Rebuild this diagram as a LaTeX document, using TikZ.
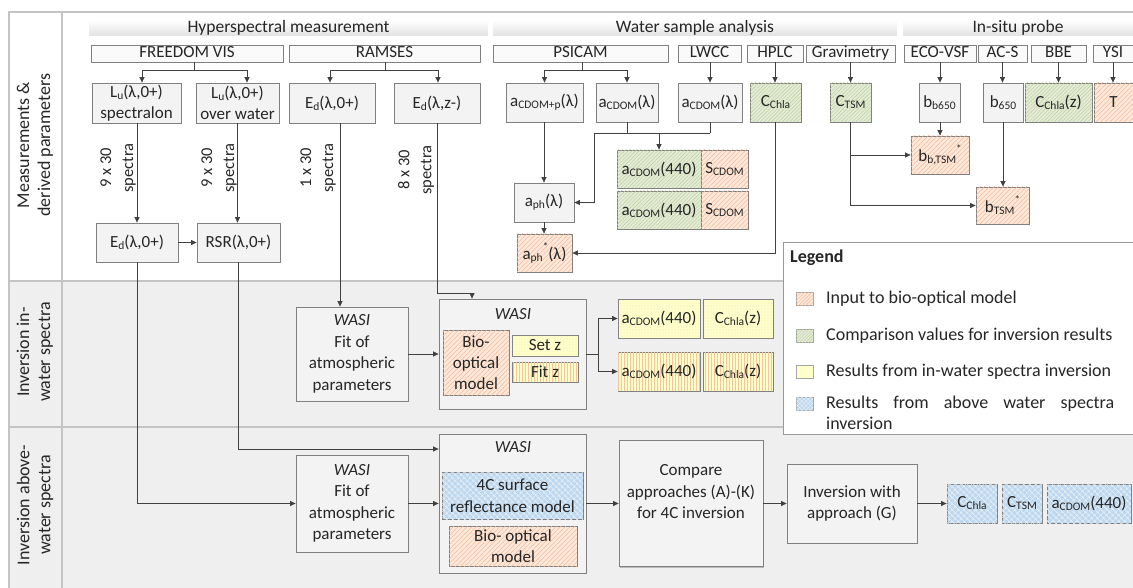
\documentclass[tikz,border=0pt]{standalone}
\usepackage{fontspec}
\setmainfont{Carlito}
\usetikzlibrary{arrows.meta,patterns.meta,shadows,calc}
\definecolor{frame}{HTML}{C4C4C4}
\definecolor{rowbg}{HTML}{EFEFEF}
\definecolor{bord}{HTML}{808080}
\definecolor{boxbg}{HTML}{F3F3F3}
\definecolor{insbg}{HTML}{FAFAFA}
\definecolor{hdrbot}{HTML}{E2E2E2}
\definecolor{txt}{HTML}{262626}
\definecolor{wire}{HTML}{404040}
\definecolor{orfill}{HTML}{FDE8DB}
\definecolor{orline}{HTML}{F5BC98}
\definecolor{grfill}{HTML}{E4EBD7}
\definecolor{grline}{HTML}{BCD09C}
\definecolor{yefill}{HTML}{FFFFCC}
\definecolor{yedot}{HTML}{D8C47E}
\definecolor{stline}{HTML}{F7C59E}
\definecolor{blfill}{HTML}{BFD8EE}
\definecolor{blline}{HTML}{E8F1FA}
\newcommand{\fsz}{\fontsize{17}{21.5}\selectfont}
\newcommand{\dnx}[1]{\raisebox{-0.25ex}{\fontsize{11.5}{12}\selectfont #1}}
\newcommand{\upx}{\raisebox{1.1ex}{\fontsize{11}{12}\selectfont *}}
\tikzset{
  base/.style={draw=bord, line width=0.8pt, text=txt, inner sep=0pt, align=center, font=\fsz,
    drop shadow={shadow xshift=1.2pt, shadow yshift=-1.2pt, opacity=0.22, fill=black}},
  box/.style={base, fill=boxbg},
  ins/.style={base, fill=insbg, minimum height=17pt, text height=12pt, text depth=3.5pt},
  hdr/.style={top color=white, bottom color=hdrbot, text=txt, inner sep=0pt, font=\fontsize{17.5}{21}\selectfont,
    minimum height=16pt, text height=12pt, text depth=3.5pt},
  orng/.style={base, fill=orfill, postaction={pattern={Lines[angle=45,distance=3.3pt,line width=0.55pt]}, pattern color=orline}},
  grn/.style={base, fill=grfill, postaction={pattern={Lines[angle=45,distance=2.6pt,line width=0.45pt]}, pattern color=grline}},
  yel/.style={base, fill=yefill, postaction={pattern={Dots[distance=3pt,radius=0.45pt]}, pattern color=yedot}},
  stri/.style={base, fill=yefill, postaction={pattern={Lines[angle=90,distance=3pt,line width=0.6pt]}, pattern color=stline}},
  blu/.style={base, fill=blfill, postaction={pattern={Hatch[angle=45,distance=4pt,line width=0.5pt]}, pattern color=blline}},
  ln/.style={draw=wire, line width=0.7pt},
  arr/.style={draw=wire, line width=0.7pt, -{Triangle[length=5.5pt,width=5pt]}},
  spec/.style={rotate=90, align=center, text=txt, font=\fontsize{16.5}{22}\selectfont, inner sep=0pt},
  rowlab/.style={rotate=90, align=center, text=txt, font=\fontsize{18}{21}\selectfont, inner sep=0pt},
  plain/.style={text=txt, inner sep=0pt, font=\fsz, align=center},
  sw/.style={draw=bord!70, line width=0.6pt, minimum width=17pt, minimum height=13pt, inner sep=0pt},
}
\begin{document}
\begin{tikzpicture}[x=1pt,y=-1pt]
\useasboundingbox (0,0) rectangle (1133,588);
\clip (0,0) rectangle (1133,588);
% background rows
\fill[white] (0,0) rectangle (1133,588);
\fill[rowbg] (9,281) rectangle (1140,600);
\draw[frame, line width=1.2pt] (1140,12) -- (9,12) -- (9,600);
\draw[frame, line width=1.2pt] (62,12) -- (62,600);
\draw[frame, line width=1.2pt] (9,281) -- (1140,281);
\draw[frame, line width=1.2pt] (9,427) -- (1140,427);
% row labels
\node[rowlab] (rl1) at (35,145) {Measurements \&\\derived parameters};
\node[rowlab] (rl2) at (35,352) {Inversion in-\\water spectra};
\node[rowlab] (rl3) at (35,505) {Inversion above-\\water spectra};
% headers
\node[hdr, minimum width=399pt] (hhyp) at (288.5,28) {Hyperspectral measurement};
\node[hdr, minimum width=404pt] (hwsa) at (695,28) {Water sample analysis};
\node[hdr, minimum width=230pt] (hisp) at (1018,28) {In-situ probe};
% instruments
\node[ins, minimum width=192pt] (fvis) at (187,53.5) {FREEDOM VIS};
\node[ins, minimum width=191pt] (ram) at (384.5,53.5) {RAMSES};
\node[ins, minimum width=175pt] (psi) at (580.5,53.5) {PSICAM};
\node[ins, minimum width=63pt] (lwcc) at (709.5,53.5) {LWCC};
\node[ins, minimum width=56pt] (hplc) at (775,53.5) {HPLC};
\node[ins, minimum width=89pt] (grav) at (850.5,53.5) {Gravimetry};
\node[ins, minimum width=72pt] (eco) at (940,53.5) {ECO-VSF};
\node[ins, minimum width=49pt] (acs) at (1002.5,53.5) {AC-S};
\node[ins, minimum width=55pt] (bbe) at (1058.5,53.5) {BBE};
\node[ins, minimum width=40pt] (ysi) at (1113,53.5) {YSI};
% measured parameters
\node[box, minimum width=89pt, minimum height=40pt] (lu1) at (136.5,103) {L\dnx{u}(λ,0+)\\spectralon};
\node[box, minimum width=83pt, minimum height=40pt] (lu2) at (237.5,103) {L\dnx{u}(λ,0+)\\over water};
\node[box, minimum width=86pt, minimum height=40pt] (ed0) at (332,103) {E\dnx{d}(λ,0+)};
\node[box, minimum width=86pt, minimum height=40pt] (edz) at (437,103) {E\dnx{d}(λ,z-)};
\node[box, minimum width=77pt, minimum height=39pt] (acp) at (544.5,102.5) {a\dnx{CDOM+p}(λ)};
\node[box, minimum width=62pt, minimum height=39pt] (acd1) at (627,102.5) {a\dnx{CDOM}(λ)};
\node[box, minimum width=64pt, minimum height=39pt] (acd2) at (710,102.5) {a\dnx{CDOM}(λ)};
\node[grn, minimum width=51pt, minimum height=39pt] (chl) at (775.5,102.5) {C\dnx{Chla}};
\node[grn, minimum width=41pt, minimum height=39pt] (tsm) at (850.5,102.5) {C\dnx{TSM}};
\node[box, minimum width=41pt, minimum height=39pt] (bb650) at (939.5,102.5) {b\dnx{b650}};
\node[box, minimum width=40pt, minimum height=39pt] (b650) at (1003,102.5) {b\dnx{650}};
\node[grn, minimum width=67pt, minimum height=39pt] (chlz) at (1058.5,102.5) {C\dnx{Chla}(z)};
\node[orng, minimum width=39pt, minimum height=39pt] (tt) at (1113.5,102.5) {T};
% derived
\node[orng, minimum width=58pt, minimum height=38pt] (bbt) at (940,155) {b\dnx{b,TSM}\upx};
\node[orng, minimum width=53pt, minimum height=37pt] (bt) at (1002.5,205.5) {b\dnx{TSM}\upx};
\node[grn, minimum width=84pt, minimum height=38pt] (a4a) at (659,169) {a\dnx{CDOM}(440)};
\node[orng, minimum width=47pt, minimum height=38pt] (s4a) at (724.5,169) {S\dnx{CDOM}};
\node[grn, minimum width=84pt, minimum height=38pt] (a4b) at (659,210) {a\dnx{CDOM}(440)};
\node[orng, minimum width=47pt, minimum height=38pt] (s4b) at (724.5,210) {S\dnx{CDOM}};
\node[box, minimum width=60pt, minimum height=39pt] (aph) at (544,202.5) {a\dnx{ph}(λ)};
\node[orng, minimum width=55pt, minimum height=38pt] (aphs) at (544.5,253) {a\dnx{ph}\upx(λ)};
\node[box, minimum width=82pt, minimum height=39pt] (ed0b) at (137,242.5) {E\dnx{d}(λ,0+)};
\node[box, minimum width=83pt, minimum height=39pt] (rsr) at (238.5,242.5) {RSR(λ,0+)};
% spectra labels
\node[spec] (sp1) at (118,168) {9 x 30\\spectra};
\node[spec] (sp2) at (219,168) {9 x 30\\spectra};
\node[spec] (sp3) at (318,168) {1 x 30\\spectra};
\node[spec] (sp4) at (416,170) {8 x 30\\spectra};
% row 2
\node[box, minimum width=112pt, minimum height=94pt] (fit1) at (352,354) {\textit{WASI}\\Fit of\\atmospheric\\parameters};
\node[box, minimum width=147pt, minimum height=110pt] (wasi1) at (512.5,354) {};
\node[plain] (wasi1t) at (513,314) {\textit{WASI}};
\node[orng, minimum width=66pt, minimum height=65pt, font=\fontsize{17}{21}\selectfont] (bio1) at (476,362.5) {Bio-\\optical\\model};
\node[yel, minimum width=66pt, minimum height=21pt] (setz) at (545,345.5) {Set z};
\node[stri, minimum width=66pt, minimum height=20pt] (fitz) at (545,372) {Fit z};
\node[yel, minimum width=82pt, minimum height=39pt] (r1a) at (659,318.5) {a\dnx{CDOM}(440)};
\node[yel, minimum width=70pt, minimum height=39pt] (r1b) at (738,318.5) {C\dnx{Chla}(z)};
\node[stri, minimum width=82pt, minimum height=39pt] (r2a) at (659,371.5) {a\dnx{CDOM}(440)};
\node[stri, minimum width=70pt, minimum height=39pt] (r2b) at (738,371.5) {C\dnx{Chla}(z)};
% row 3
\node[box, minimum width=112pt, minimum height=97pt] (fit2) at (352,503.5) {\textit{WASI}\\Fit of\\atmospheric\\parameters};
\node[box, minimum width=147pt, minimum height=139pt] (wasi2) at (512.5,503.5) {};
\node[plain] (wasi2t) at (513,447) {\textit{WASI}};
\node[blu, minimum width=141pt, minimum height=47pt] (c4) at (512.5,495.5) {4C surface\\reflectance model};
\node[orng, minimum width=128pt, minimum height=40pt] (bio2) at (513,546) {Bio- optical\\model};
\node[box, minimum width=144pt, minimum height=126pt] (cmp) at (691,503.5) {};
\node[plain] (cmpt) at (691,492) {Compare\\approaches (A)-(K)\\for 4C inversion};
\node[box, minimum width=130pt, minimum height=79pt] (inv) at (852,503.5) {Inversion with\\approach (G)};
\node[blu, minimum width=50pt, minimum height=39pt] (o1) at (972,503.5) {C\dnx{Chla}};
\node[blu, minimum width=40pt, minimum height=39pt] (o2) at (1022,503.5) {C\dnx{TSM}};
\node[blu, minimum width=84pt, minimum height=39pt] (o3) at (1089,503.5) {a\dnx{CDOM}(440)};
% connectors: instruments
\coordinate (kf) at (194,70);
\draw[ln] (fvis.south -| kf) -- (kf);
\draw[arr] (kf) -| ([xshift=5.5pt]lu1.north);
\draw[arr] (kf) -| ([xshift=9.5pt]lu2.north);
\coordinate (kr) at (385,70);
\draw[ln] (ram.south -| kr) -- (kr);
\draw[arr] (kr) -| ([xshift=-2pt]ed0.north);
\draw[arr] (kr) -| ([xshift=1pt]edz.north);
\coordinate (kp) at (582,70);
\draw[ln] (psi.south -| kp) -- (kp);
\draw[arr] (kp) -| (acp.north);
\draw[arr] (kp) -| (acd1.north);
\draw[arr] (acd2.north |- lwcc.south) -- (acd2.north);
\draw[arr] (hplc.south) -- (hplc.south |- chl.north);
\draw[arr] (tsm.north |- grav.south) -- (tsm.north);
\draw[arr] (eco.south) -- (eco.south |- bb650.north);
\draw[arr] (acs.south) -- (acs.south |- b650.north);
\draw[arr] (bbe.south) -- (bbe.south |- chlz.north);
\draw[arr] (ysi.south) -- (ysi.south |- tt.north);
% spectra
\draw[arr] (ed0b.north |- lu1.south) -- (ed0b.north);
\draw[arr] (lu2.south) -- (lu2.south |- rsr.north);
\draw[arr] (ed0b.east) -- (rsr.west);
\draw[arr] ([xshift=8pt]ed0.south) -- ([xshift=8pt]ed0.south |- fit1.north);
\coordinate (k1) at (472,293);
\draw[arr] (edz.south) |- (k1) -- (k1 |- wasi1.north);
% water sample chain
\draw[arr] (aph.north |- acp.south) -- (aph.north);
\draw[arr] (aph.south) -- (aph.south |- aphs.north);
\coordinate (kc) at (594,133);
\draw[ln] (acd1.south) -- (acd1.south |- kc);
\draw[ln] (acd2.south) -- (acd2.south |- kc);
\draw[ln] (kc) -- (acd2.south |- kc);
\draw[arr] (a4a.north |- kc) -- (a4a.north);
\draw[arr] (kc) |- (aph.east);
\draw[arr] (chl.south) |- (aphs.east);
\draw[arr] (tsm.south) |- (bt.west);
\draw[arr] (tsm.south |- bbt.west) -- (bbt.west);
\draw[arr] (bbt.north |- bb650.south) -- (bbt.north);
\draw[arr] (b650.south) -- (b650.south |- bt.north);
% row 2 connectors
\draw[arr] (fit1.east) -- (wasi1.west);
\coordinate (ko) at (598,354);
\draw[ln] (wasi1.east) -- (ko);
\draw[arr] (ko) |- (r1a.west);
\draw[arr] (ko) |- (r2a.west);
% row 3 connectors
\draw[arr] (ed0b.south) |- (fit2.west);
\draw[arr] (rsr.south) |- ([yshift=54.5pt]wasi2.west);
\draw[arr] (fit2.east) -- (wasi2.west);
\draw[arr] (wasi2.east) -- (cmp.west);
\draw[arr] (cmp.east) -- (inv.west);
\draw[arr] (inv.east) -- (o1.west);
% legend
\node[draw=bord!80, line width=0.9pt, fill=white, minimum width=362pt, minimum height=192pt, inner sep=0pt] (leg) at (964,338) {};
\node[plain, anchor=west, font=\bfseries\fontsize{18}{21}\selectfont] (legt) at (790,258) {Legend};
\node[sw, fill=orfill, postaction={pattern={Lines[angle=45,distance=2.5pt,line width=0.45pt]}, pattern color=orline}] (sw1) at (804.5,299) {};
\node[sw, fill=grfill, postaction={pattern={Lines[angle=45,distance=2.2pt,line width=0.4pt]}, pattern color=grline}] (sw2) at (804.5,336) {};
\node[sw, fill=yefill] (sw3) at (804.5,372) {};
\node[sw, fill=blfill, postaction={pattern={Hatch[angle=45,distance=3pt,line width=0.4pt]}, pattern color=blline}] (sw4) at (804.5,404) {};
\node[plain, anchor=west, font=\fontsize{18}{21}\selectfont] (lt1) at (826,299) {Input to bio-optical model};
\node[plain, anchor=west, font=\fontsize{18}{21}\selectfont] (lt2) at (826,336) {Comparison values for inversion results};
\node[plain, anchor=west, font=\fontsize{18}{21}\selectfont] (lt3) at (826,372) {Results from in-water spectra inversion};
\node[plain, anchor=west, text width=288pt, align=justify, font=\fontsize{18}{20.5}\selectfont] (lt4) at (826,413) {Results from above water spectra \mbox{inversion}};
\end{tikzpicture}
\end{document}
